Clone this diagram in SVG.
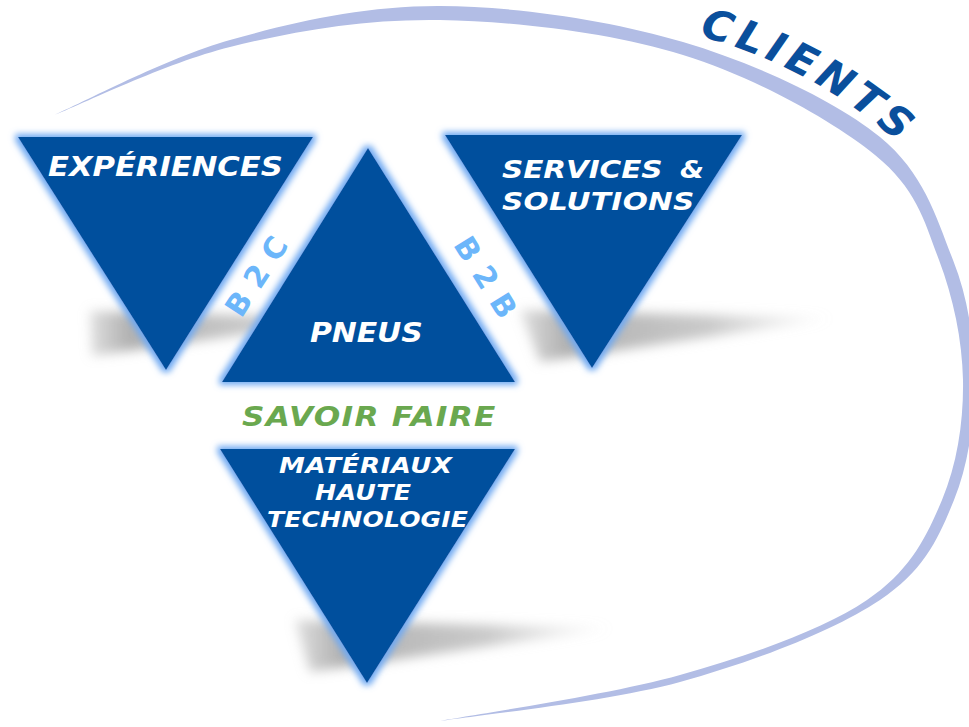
<svg xmlns="http://www.w3.org/2000/svg" width="969" height="727" viewBox="0 0 969 727">
<defs>
<style>
.tri{fill:#02509d;filter:url(#glow)}
.lbl{font-family:"DejaVu Sans","Liberation Sans",sans-serif;font-weight:bold;font-style:italic;fill:#ffffff}
.bb{font-family:"DejaVu Sans","Liberation Sans",sans-serif;font-weight:bold;fill:#6cb6fa;font-size:30px}
.shadow{fill:url(#shg);filter:url(#blur)}
</style>
<filter id="glow" x="-10%" y="-10%" width="120%" height="120%">
<feMorphology in="SourceAlpha" operator="dilate" radius="3" result="d"/>
<feGaussianBlur in="d" stdDeviation="3" result="b"/>
<feFlood flood-color="#6fa9f2"/>
<feComposite in2="b" operator="in" result="g"/>
<feMerge><feMergeNode in="g"/><feMergeNode in="SourceGraphic"/></feMerge>
</filter>
<filter id="blur" x="-20%" y="-50%" width="140%" height="200%">
<feGaussianBlur stdDeviation="6"/>
</filter>
<linearGradient id="shg" x1="0" y1="0" x2="1" y2="0">
<stop offset="0" stop-color="#b0b0b0" stop-opacity="0.4"/>
<stop offset="0.15" stop-color="#b0b0b0" stop-opacity="1"/>
<stop offset="0.6" stop-color="#c0c0c0" stop-opacity="0.85"/>
<stop offset="1" stop-color="#d0d0d0" stop-opacity="0"/>
</linearGradient>
</defs>
<rect width="969" height="727" fill="#ffffff"/>

<g id="clients-arc">
<path fill="#b2bde5" d="M52,116 C81.7,103.3 165.3,58.3 230,40 C294.7,21.7 364.5,5.7 440,6 C515.5,6.3 609.7,20.2 683,42 C756.3,63.8 835.5,100.7 880,137 C924.5,173.3 937,219.5 953,260 C969,300.5 973.7,340 974,380 C974.3,420 969,463.3 954,500 C939,536.7 925.3,569.7 880,600 C834.7,630.3 754.3,661.7 680,682 C605.7,702.3 475,715.3 434,722 C475,714.2 607.8,695.3 680,675 C752.2,654.7 823.7,629.2 867,600 C910.3,570.8 926.5,536.7 942,500 C957.5,463.3 963.7,420 963,380 C962.3,340 953.2,297.5 939,260 C924.8,222.5 917.2,189.2 875,155 C832.8,120.8 755.5,77.5 683,55 C610.5,32.5 515.5,21.3 440,20 C364.5,18.7 294.7,31 230,47 C165.3,63 81.7,104.5 52,116 Z"/>
</g>

<g id="shadows">
<polygon class="shadow" points="90,311 360,318 92,356"/>
<polygon class="shadow" points="520,310 835,318 540,362"/>
<polygon class="shadow" points="295,620 615,628 310,672"/>
</g>

<g id="connectors"></g>

<g id="experiences">
<polygon class="tri" points="18,137 313,137 166,370"/>
<text class="lbl" transform="translate(48,176) scale(1.18,1)" font-size="26" textLength="199" lengthAdjust="spacing">EXPÉRIENCES</text>
</g>

<g id="pneus">
<polygon class="tri" points="368,148 515,382 222,382"/>
<text class="lbl" transform="translate(310,342) scale(1.15,1)" font-size="26" textLength="98" lengthAdjust="spacing">PNEUS</text>
</g>

<g id="services">
<polygon class="tri" points="445,135 742,135 592,368"/>
<text class="lbl" transform="translate(502,178) scale(1.18,1)" font-size="25" textLength="136" lengthAdjust="spacing">SERVICES</text>
<text class="lbl" transform="translate(680,178) scale(1.1,1)" font-size="25">&amp;</text>
<text class="lbl" transform="translate(502,210) scale(1.18,1)" font-size="25" textLength="163" lengthAdjust="spacing">SOLUTIONS</text>
</g>

<g id="materiaux">
<polygon class="tri" points="220,449 515,449 367,683"/>
<text class="lbl" transform="translate(279,473) scale(1.18,1)" font-size="22" textLength="146.6" lengthAdjust="spacing">MATÉRIAUX</text>
<text class="lbl" transform="translate(315,500) scale(1.15,1)" font-size="22" textLength="83.5" lengthAdjust="spacing">HAUTE</text>
<text class="lbl" transform="translate(267,527) scale(1.14,1)" font-size="22" textLength="176.3" lengthAdjust="spacing">TECHNOLOGIE</text>
</g>

<g id="savoir-faire">
<text transform="translate(242,426) scale(1.2,1)" font-size="26" font-family="DejaVu Sans, Liberation Sans, sans-serif" font-weight="bold" font-style="italic" fill="#6aa84f" textLength="211" lengthAdjust="spacing">SAVOIR FAIRE</text>
</g>

<g id="b2c">
<text class="bb" transform="translate(256,276) rotate(-57)" x="0" y="11" text-anchor="middle" textLength="88" lengthAdjust="spacing">B2C</text>
</g>

<g id="b2b">
<text class="bb" transform="translate(486,277) rotate(58)" x="0" y="11" text-anchor="middle" textLength="90" lengthAdjust="spacing">B2B</text>
</g>

<g id="clients">
<path id="clientsPath" d="M699,36 C767,54 837,87 907,150" fill="none"/>
<text font-family="DejaVu Sans, Liberation Sans, sans-serif" font-weight="bold" font-style="italic" font-size="42" fill="#0a4f9c"><textPath href="#clientsPath" textLength="228" lengthAdjust="spacing">CLIENTS</textPath></text>
</g>
</svg>
